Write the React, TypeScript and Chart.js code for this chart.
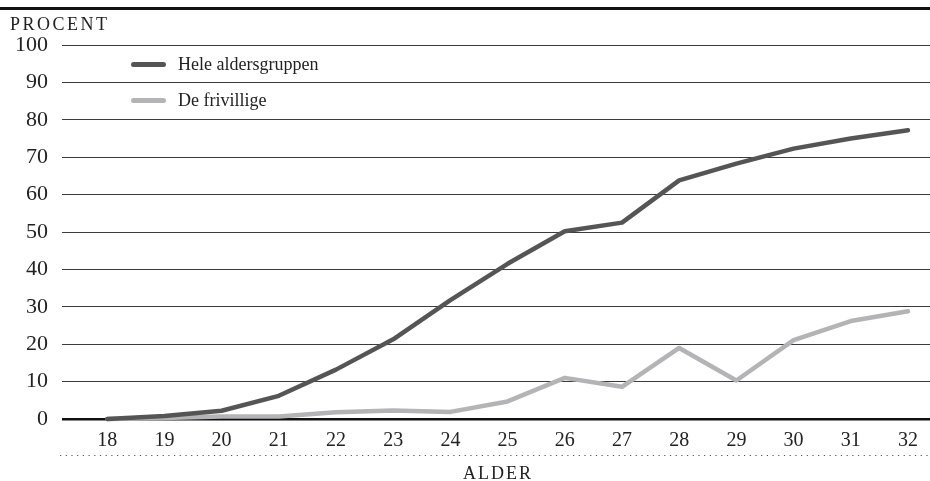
import React, { useEffect, useRef } from "react";
import { Chart, registerables } from "chart.js";

Chart.register(...registerables);

const ages = [18, 19, 20, 21, 22, 23, 24, 25, 26, 27, 28, 29, 30, 31, 32];
const heleAldersgruppen = [0, 0.8, 2.2, 6.2, 13.2, 21.3, 31.8, 41.5, 50.2, 52.5, 63.8, 68.3, 72.3, 75.0, 77.2];
const deFrivillige = [0, 0.3, 0.7, 0.7, 1.8, 2.3, 1.9, 4.7, 11.0, 8.6, 19.0, 10.3, 21.1, 26.2, 28.8];
const seriesNames = ["Hele aldersgruppen", "De frivillige"];
const seriesColors = ["#555555", "#b4b4b7"];
const yTicks = [0, 10, 20, 30, 40, 50, 60, 70, 80, 90, 100];
const yTitle = "PROCENT";
const xTitle = "ALDER";

const FONT = "'Liberation Serif', 'DejaVu Serif', serif";

const dottedLine = {
  id: "dottedLine",
  afterDraw(chart: any) {
    const ctx = chart.ctx;
    ctx.save();
    ctx.strokeStyle = "#555";
    ctx.lineWidth = 1;
    ctx.setLineDash([1.2, 4.5]);
    ctx.beginPath();
    ctx.moveTo(60, 455.5);
    ctx.lineTo(930, 455.5);
    ctx.stroke();
    ctx.restore();
  },
};

export default function App() {
  const ref = useRef<HTMLCanvasElement>(null);
  useEffect(() => {
    document.body.style.margin = "0";
    const chart = new Chart(ref.current as HTMLCanvasElement, {
      type: "line",
      data: {
        datasets: [heleAldersgruppen, deFrivillige].map((vals, i) => ({
          label: seriesNames[i],
          data: ages.map((a, j) => ({ x: a, y: vals[j] })),
          borderColor: seriesColors[i],
          backgroundColor: seriesColors[i],
          borderWidth: 4.5,
          pointRadius: 0,
          borderCapStyle: "round",
          borderJoinStyle: "round",
          tension: 0,
          clip: false,
        })) as any,
      },
      options: {
        responsive: false,
        animation: false,
        layout: { padding: { top: 45, right: 0, left: 0, bottom: 0 } },
        plugins: { legend: { display: false }, tooltip: { enabled: false } },
        scales: {
          x: {
            type: "linear",
            min: 17.21,
            max: 32.385,
            afterBuildTicks: (scale: any) => {
              scale.ticks = ages.map((v) => ({ value: v }));
            },
            afterFit: (scale: any) => {
              scale.height = 62;
            },
            grid: { display: false, drawTicks: false },
            border: { display: false },
            ticks: {
              autoSkip: false,
              maxRotation: 0,
              padding: 10,
              color: "#222",
              font: { family: FONT, size: 20 },
              callback: (v: any) => String(v),
            },
          },
          y: {
            min: 0,
            max: 100,
            afterBuildTicks: (scale: any) => {
              scale.ticks = yTicks.map((v) => ({ value: v }));
            },
            afterFit: (scale: any) => {
              scale.width = 62;
            },
            grid: {
              drawTicks: false,
              color: (c: any) => (c.tick && c.tick.value === 0 ? "#111" : "#3c3c3c"),
              lineWidth: (c: any) => (c.tick && c.tick.value === 0 ? 2.5 : 1),
            },
            border: { display: false },
            ticks: {
              padding: 14,
              color: "#222",
              font: { family: FONT, size: 22 },
            },
          },
        },
      },
      plugins: [dottedLine],
    });
    return () => chart.destroy();
  }, []);

  const legendRow = (i: number, top: number) => (
    <div
      key={i}
      style={{ position: "absolute", left: 131, top: top - 12, height: 24, display: "flex", alignItems: "center" }}
    >
      <div style={{ width: 35, height: 5, borderRadius: 3, background: seriesColors[i] }} />
      <span style={{ marginLeft: 12, fontFamily: FONT, fontSize: 18, color: "#222", whiteSpace: "nowrap" }}>
        {seriesNames[i]}
      </span>
    </div>
  );

  return (
    <div style={{ position: "relative", width: 930, height: 481, background: "#fff", overflow: "hidden" }}>
      <canvas ref={ref} width={930} height={481} style={{ position: "absolute", left: 0, top: 0 }} />
      <div style={{ position: "absolute", left: 0, top: 7, width: 930, height: 3, background: "#111" }} />
      <div
        style={{
          position: "absolute",
          left: 10,
          top: 14,
          fontFamily: FONT,
          fontSize: 18,
          letterSpacing: 2.5,
          color: "#222",
          lineHeight: "20px",
        }}
      >
        {yTitle}
      </div>
      <div
        style={{
          position: "absolute",
          left: 463,
          top: 463,
          fontFamily: FONT,
          fontSize: 18,
          letterSpacing: 2,
          color: "#222",
          lineHeight: "20px",
        }}
      >
        {xTitle}
      </div>
      {legendRow(0, 64)}
      {legendRow(1, 100)}
    </div>
  );
}
